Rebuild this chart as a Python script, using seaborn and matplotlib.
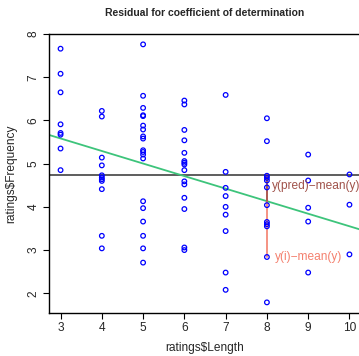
import matplotlib
matplotlib.use("Agg")
import matplotlib.pyplot as plt
import numpy as np
import pandas as pd
import seaborn as sns

# ratings$Length -> ratings$Frequency
len3 = [7.66, 7.08, 6.65, 5.91, 5.71, 5.67, 5.35, 4.85]
len4 = [6.22, 6.09, 5.14, 4.96, 4.73, 4.68, 4.64, 4.60, 4.41, 3.33, 3.04]
len5 = [7.76, 6.57, 6.29, 6.12, 6.10, 5.88, 5.79, 5.63, 5.58, 5.31, 5.27,
        5.21, 5.12, 4.13, 3.97, 3.66, 3.33, 3.04, 2.71]
len6 = [6.46, 6.37, 5.78, 5.54, 5.25, 5.06, 5.02, 4.98, 4.85, 4.59, 4.52,
        4.21, 3.95, 3.06, 3.00]
len7 = [6.59, 4.81, 4.44, 4.25, 4.00, 3.82, 3.44, 2.48, 2.08]
len8 = [6.05, 5.52, 4.72, 4.67, 4.61, 4.45, 4.04, 3.65, 3.60, 3.55, 2.84, 1.79]
len9 = [5.21, 4.61, 3.98, 3.66, 2.48]
len10 = [4.75, 4.05, 2.90]

columns = {3: len3, 4: len4, 5: len5, 6: len6, 7: len7, 8: len8, 9: len9, 10: len10}
ratings = pd.DataFrame(
    [(k, v) for k, vals in columns.items() for v in vals],
    columns=['Length', 'Frequency']
)

# the highlighted observation
pick_x = 8
pick_y = 2.84

sns.set_style('ticks')
plt.rcParams['font.family'] = ['Liberation Sans', 'DejaVu Sans']

fig = plt.figure(figsize=(3.59, 3.56), dpi=100)
ax = fig.add_axes([49 / 359, 43.3 / 356, 312 / 359, 278.7 / 356])

# R style 4% padding
xmin, xmax = ratings['Length'].min(), ratings['Length'].max()
ymin, ymax = ratings['Frequency'].min(), ratings['Frequency'].max()
px, py = 0.04 * (xmax - xmin), 0.04 * (ymax - ymin)
ax.set_xlim(xmin - px, xmax + px)
ax.set_ylim(ymin - py, ymax + py)

sns.scatterplot(data=ratings, x='Length', y='Frequency', ax=ax,
                marker='o', s=11, facecolor='none', edgecolor='#0000FF',
                linewidth=0.9, zorder=3)

mean_y = ratings['Frequency'].mean()
slope, icpt = np.polyfit(ratings['Length'], ratings['Frequency'], 1)
pred = icpt + slope * pick_x

ax.axhline(mean_y, color='#505050', linewidth=1.3, zorder=2)
ax.axline((0, icpt), slope=slope, color='#3DC47B', linewidth=1.3, zorder=2)

ax.plot([pick_x, pick_x], [mean_y, pick_y], color='#F4806E', linewidth=1.2, zorder=2)
ax.plot([pick_x, pick_x], [mean_y, pred], color='#A0524A', linewidth=1.2, zorder=2)

ax.text(pick_x + 0.13, (mean_y + pred) / 2 + 0.06, 'y(pred)\u2212mean(y)',
        color='#A0524A', fontsize=8.6, ha='left', va='center')
ax.text(pick_x + 0.19, pick_y, 'y(i)\u2212mean(y)',
        color='#F4806E', fontsize=8.6, ha='left', va='center')

ax.set_xticks(range(3, 11))
ax.set_yticks(range(2, 9))
ax.tick_params(axis='both', direction='out', length=4.5, width=0.8,
               labelsize=8.6, color='black')
ax.tick_params(axis='x', pad=2.5)
ax.tick_params(axis='y', pad=2.5)
for lab in ax.get_yticklabels():
    lab.set_rotation(90)
    lab.set_va('center')

for sp in ax.spines.values():
    sp.set_color('black')
    sp.set_linewidth(1.0)

ax.set_xlabel('ratings$Length', fontsize=8.6, labelpad=5.5)
ax.set_ylabel('ratings$Frequency', fontsize=8.6, labelpad=7.5)
ax.set_title('Residual for coefficient of determination',
             fontsize=7.5, fontweight='bold', pad=13)

fig.savefig('out.png', dpi=100)
